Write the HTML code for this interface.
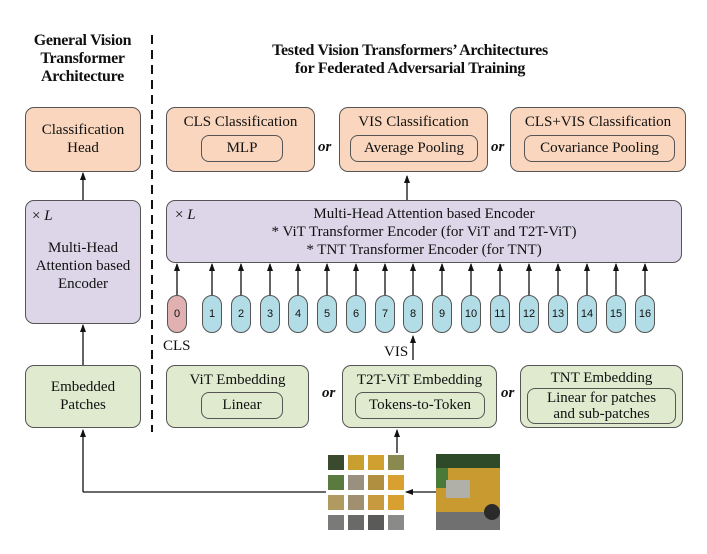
<!DOCTYPE html>
<html><head><style>
body{margin:0;width:707px;height:554px;background:#fff;position:relative;font-family:"Liberation Serif",serif;color:#111;overflow:hidden}
.b{position:absolute;border:1px solid #555;border-radius:9px;box-sizing:border-box;text-align:center;font-size:15px;line-height:18px}
.o{background:#f9d6bd}.p{background:#dcd6e8}.g{background:#dfeacf}
.i{position:absolute;border:1px solid #555;border-radius:8px;box-sizing:border-box;text-align:center;font-size:15px}
.t{position:absolute;font-size:16px;font-weight:bold;text-align:center;line-height:18px;letter-spacing:-0.3px}
.tk{position:absolute;top:295px;width:20px;height:38px;border:1px solid #555;border-radius:10px;box-sizing:border-box;background:#b3dde6;font-family:"Liberation Sans",sans-serif;font-size:11px;line-height:36px;text-align:center}
.or{position:absolute;font-style:italic;font-weight:bold;font-size:15px}
.s{position:absolute;font-size:15px}
</style></head><body>
<div class="t" style="left:5px;top:32px;width:155px">General Vision<br>Transformer<br>Architecture</div>
<div class="t" style="left:160px;top:42px;width:500px">Tested Vision Transformers’ Architectures<br>for Federated Adversarial Training</div>

<div class="b o" style="left:25px;top:107px;width:116px;height:65px;padding-top:13px">Classification<br>Head</div>
<div class="b p" style="left:25px;top:200px;width:116px;height:124px"><div style="position:absolute;left:6px;top:6px">× <i>L</i></div><div style="margin-top:38px">Multi-Head<br>Attention based<br>Encoder</div></div>
<div class="b g" style="left:25px;top:365px;width:116px;height:63px;padding-top:12px">Embedded<br>Patches</div>

<div class="b o" style="left:166px;top:107px;width:149px;height:65px;padding-top:5px">CLS Classification</div>
<div class="i" style="left:201px;top:135px;width:82px;height:27px;line-height:25px">MLP</div>
<div class="b o" style="left:339px;top:107px;width:149px;height:65px;padding-top:5px">VIS Classification</div>
<div class="i" style="left:350px;top:135px;width:128px;height:27px;line-height:25px">Average Pooling</div>
<div class="b o" style="left:510px;top:107px;width:176px;height:65px;padding-top:5px">CLS+VIS Classification</div>
<div class="i" style="left:524px;top:135px;width:151px;height:27px;line-height:25px">Covariance Pooling</div>
<div class="or" style="left:318px;top:139px">or</div>
<div class="or" style="left:491px;top:139px">or</div>

<div class="b p" style="left:166px;top:200px;width:516px;height:63px;padding-top:4px;line-height:18px"><div style="position:absolute;left:8px;top:5px">× <i>L</i></div>Multi-Head Attention based Encoder<br>* ViT Transformer Encoder (for ViT and T2T-ViT)<br>* TNT Transformer Encoder (for TNT)</div>

<div class="tk" style="left:167px;background:#e0b1b0">0</div>
<div class="tk" style="left:202px">1</div><div class="tk" style="left:231px">2</div><div class="tk" style="left:260px">3</div><div class="tk" style="left:288px">4</div><div class="tk" style="left:317px">5</div><div class="tk" style="left:346px">6</div><div class="tk" style="left:375px">7</div><div class="tk" style="left:403px">8</div><div class="tk" style="left:432px">9</div><div class="tk" style="left:461px">10</div><div class="tk" style="left:490px">11</div><div class="tk" style="left:519px">12</div><div class="tk" style="left:548px">13</div><div class="tk" style="left:577px">14</div><div class="tk" style="left:606px">15</div><div class="tk" style="left:635px">16</div>
<div class="s" style="left:163px;top:338px">CLS</div>
<div class="s" style="left:384px;top:344px">VIS</div>

<div class="b g" style="left:166px;top:365px;width:143px;height:63px;padding-top:5px">ViT Embedding</div>
<div class="i" style="left:201px;top:392px;width:82px;height:27px;line-height:25px">Linear</div>
<div class="b g" style="left:342px;top:365px;width:155px;height:63px;padding-top:5px">T2T-ViT Embedding</div>
<div class="i" style="left:355px;top:392px;width:130px;height:27px;line-height:25px">Tokens-to-Token</div>
<div class="b g" style="left:520px;top:365px;width:163px;height:63px;padding-top:3px">TNT Embedding</div>
<div class="i" style="left:527px;top:388px;width:149px;height:36px;line-height:16px;padding-top:1px">Linear for patches<br>and sub-patches</div>
<div class="or" style="left:322px;top:385px">or</div>
<div class="or" style="left:501px;top:385px">or</div>

<svg width="707" height="554" style="position:absolute;left:0;top:0" xmlns="http://www.w3.org/2000/svg">
<defs><marker id="a" markerWidth="8" markerHeight="8" refX="7" refY="4" orient="auto" markerUnits="userSpaceOnUse"><path d="M0,1 L8,4 L0,7 Z" fill="#111"/></marker></defs>
<line x1="152" y1="35" x2="152" y2="432" stroke="#111" stroke-width="2" stroke-dasharray="9,6"/>
<g stroke="#111" stroke-width="1.3" marker-end="url(#a)">
<line x1="83" y1="365" x2="83" y2="325"/>
<line x1="83" y1="200" x2="83" y2="173"/>
<line x1="407" y1="200" x2="407" y2="176"/>
<line x1="177" y1="295" x2="177" y2="264"/><line x1="212" y1="295" x2="212" y2="264"/><line x1="241" y1="295" x2="241" y2="264"/><line x1="270" y1="295" x2="270" y2="264"/><line x1="298" y1="295" x2="298" y2="264"/><line x1="327" y1="295" x2="327" y2="264"/><line x1="356" y1="295" x2="356" y2="264"/><line x1="385" y1="295" x2="385" y2="264"/><line x1="413" y1="295" x2="413" y2="264"/><line x1="442" y1="295" x2="442" y2="264"/><line x1="471" y1="295" x2="471" y2="264"/><line x1="500" y1="295" x2="500" y2="264"/><line x1="529" y1="295" x2="529" y2="264"/><line x1="558" y1="295" x2="558" y2="264"/><line x1="587" y1="295" x2="587" y2="264"/><line x1="616" y1="295" x2="616" y2="264"/><line x1="645" y1="295" x2="645" y2="264"/>
<line x1="413" y1="360" x2="413" y2="336"/>
<line x1="397" y1="453" x2="397" y2="430"/>
<line x1="83" y1="492" x2="83" y2="430"/>
<line x1="436" y1="492" x2="406" y2="492"/>
</g>
<line x1="83" y1="492" x2="326" y2="492" stroke="#111" stroke-width="1.3"/>
<g>
<rect x="328" y="455" width="16" height="15" fill="#3a4a2e"/><rect x="348" y="455" width="16" height="15" fill="#c9a030"/><rect x="368" y="455" width="16" height="15" fill="#d0a030"/><rect x="388" y="455" width="16" height="15" fill="#8a8a50"/>
<rect x="328" y="475" width="16" height="15" fill="#5a7a40"/><rect x="348" y="475" width="16" height="15" fill="#9a9080"/><rect x="368" y="475" width="16" height="15" fill="#b09040"/><rect x="388" y="475" width="16" height="15" fill="#d8a030"/>
<rect x="328" y="495" width="16" height="15" fill="#b09a60"/><rect x="348" y="495" width="16" height="15" fill="#a09070"/><rect x="368" y="495" width="16" height="15" fill="#c89a40"/><rect x="388" y="495" width="16" height="15" fill="#d8a030"/>
<rect x="328" y="515" width="16" height="15" fill="#7a7a78"/><rect x="348" y="515" width="16" height="15" fill="#6a6a68"/><rect x="368" y="515" width="16" height="15" fill="#5a5a58"/><rect x="388" y="515" width="16" height="15" fill="#8a8a88"/>
<rect x="436" y="454" width="64" height="76" fill="#c89a30"/>
<rect x="436" y="454" width="64" height="14" fill="#2e4a28"/>
<rect x="436" y="468" width="12" height="20" fill="#4a7a38"/>
<rect x="446" y="480" width="24" height="18" fill="#b0b0a8"/>
<rect x="436" y="512" width="64" height="18" fill="#707070"/>
<circle cx="492" cy="512" r="8" fill="#2a2a2a"/>
</g>
</svg>
</body></html>
